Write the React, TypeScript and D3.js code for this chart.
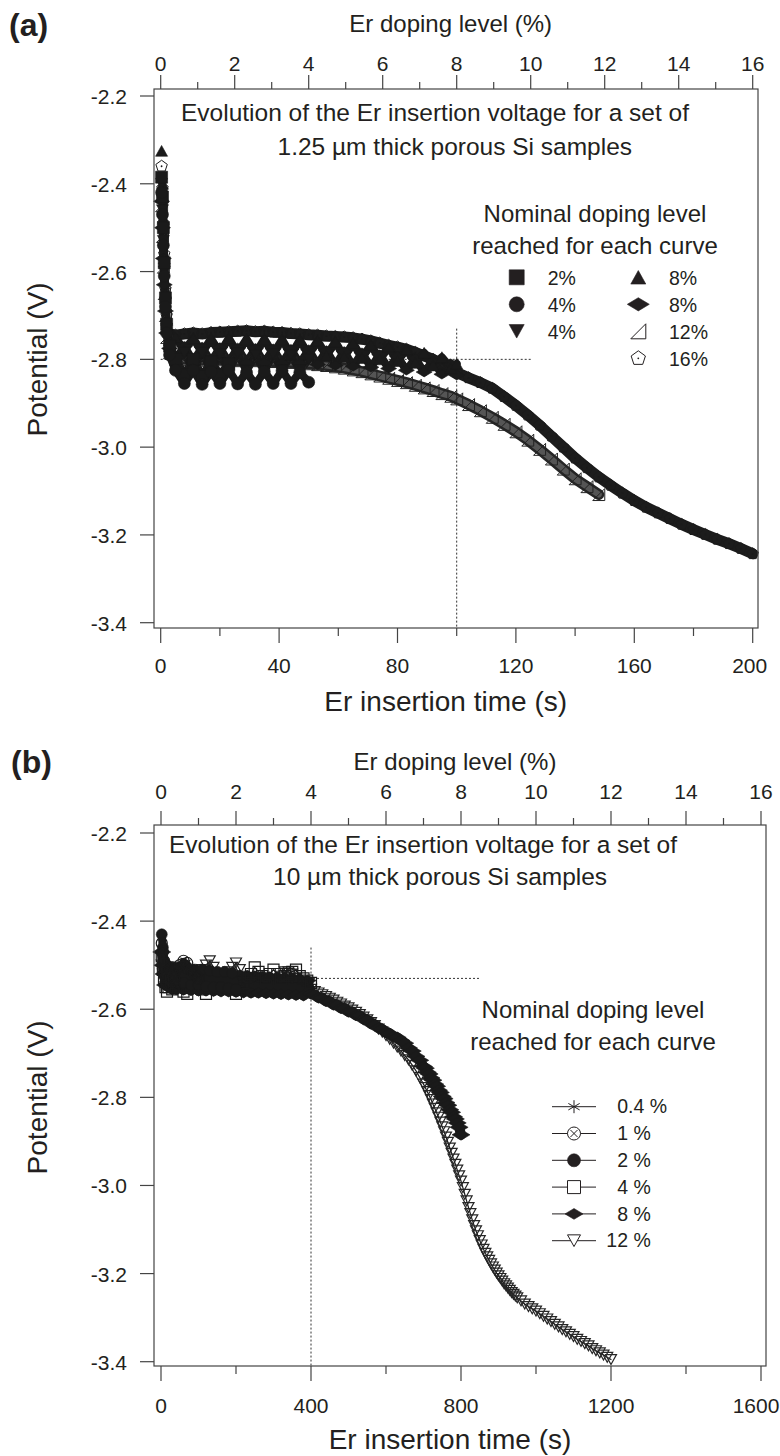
import React from "react";
import * as d3 from "d3";

// ---------------- Panel (a) : 1.25 µm samples ----------------
const timeA = [0.3, 0.6, 0.9, 1.2, 1.6, 2, 3, 5,
  8, 11, 14, 17, 20, 23, 26, 29, 32, 35, 38, 41, 44, 47, 50,
  53, 56, 59, 62, 65, 68, 71, 74, 77, 80, 83, 86, 89, 92, 95, 98, 100,
  104, 108, 112, 116, 120, 124, 128, 132, 136, 140, 144, 148,
  152, 156, 160, 164, 168, 172, 176, 180, 184, 188, 192, 196, 200];

const a2sq = [-2.385, -2.43, -2.50, -2.58, -2.66, -2.72, -2.77, -2.80,
  -2.835, -2.80, -2.838, -2.805, -2.835, -2.81];
const a4ci = [-2.42, -2.47, -2.54, -2.61, -2.68, -2.74, -2.79, -2.825,
  -2.855, -2.825, -2.857, -2.828, -2.855, -2.825, -2.856, -2.83, -2.857, -2.828, -2.855, -2.826, -2.855, -2.83, -2.852];
const a4td = [-2.40, -2.46, -2.53, -2.60, -2.67, -2.73, -2.78, -2.80,
  -2.785, -2.825, -2.785, -2.826, -2.788, -2.825, -2.786, -2.826, -2.79, -2.827, -2.788, -2.825, -2.79, -2.825, -2.80];
const a8tu = [-2.325, -2.40, -2.48, -2.57, -2.65, -2.71, -2.755, -2.75,
  -2.78, -2.752, -2.785, -2.753, -2.785, -2.752, -2.786, -2.754, -2.787, -2.754, -2.788, -2.755, -2.79, -2.756, -2.79,
  -2.758, -2.792, -2.76, -2.795, -2.763, -2.797, -2.767, -2.80, -2.772, -2.804, -2.777, -2.808, -2.785, -2.814, -2.795, -2.82,
  -2.81];
const a8di = [-2.44, -2.50, -2.57, -2.63, -2.69, -2.74, -2.775, -2.80,
  -2.77, -2.805, -2.772, -2.806, -2.773, -2.807, -2.774, -2.808, -2.775, -2.808, -2.776, -2.809, -2.777, -2.81, -2.778,
  -2.812, -2.78, -2.814, -2.782, -2.816, -2.785, -2.818, -2.789, -2.821, -2.793, -2.825, -2.798, -2.829, -2.804, -2.834, -2.81,
  -2.836];
const a12 = [-2.45, -2.52, -2.59, -2.65, -2.70, -2.75, -2.785, -2.795,
  -2.80, -2.80, -2.802, -2.80, -2.801, -2.802, -2.803, -2.802, -2.803, -2.804, -2.805, -2.806, -2.807, -2.808, -2.81,
  -2.812, -2.814, -2.817, -2.82, -2.824, -2.828, -2.833, -2.838, -2.843, -2.848, -2.853, -2.859, -2.865, -2.871, -2.878, -2.884,
  -2.89,
  -2.903, -2.917, -2.932, -2.948, -2.965, -2.984, -3.005, -3.027, -3.05, -3.072, -3.09, -3.108];
const a16 = [-2.36, -2.41, -2.49, -2.56, -2.64, -2.70, -2.742, -2.745,
  -2.742, -2.74, -2.742, -2.739, -2.738, -2.737, -2.736, -2.735, -2.737, -2.736, -2.738, -2.739, -2.741, -2.742, -2.744,
  -2.745, -2.747, -2.748, -2.749, -2.751, -2.754, -2.758, -2.763, -2.768, -2.772, -2.777, -2.784, -2.792, -2.80, -2.81, -2.822,
  -2.83,
  -2.842, -2.853, -2.866, -2.885, -2.905, -2.927, -2.95, -2.975, -3.0, -3.025, -3.047, -3.068,
  -3.087, -3.105, -3.122, -3.137, -3.15, -3.163, -3.176, -3.188, -3.199, -3.21, -3.22, -3.231, -3.243];

// ---------------- Panel (b) : 10 µm samples ----------------
const timeB = [2, 5, 8, 12, 16, 20, 25, 30, 35, 40,
  50, 60, 70, 80, 90, 100, 110, 120, 130, 140, 150, 160, 170, 180, 190, 200,
  210, 220, 230, 240, 250, 260, 270, 280, 290, 300, 310, 320, 330, 340, 350, 360, 370, 380, 390, 400,
  410, 420, 430, 440, 450, 460, 470, 480, 490, 500, 510, 520, 530, 540, 550,
  560, 570, 580, 590, 600, 610, 620, 630, 640, 650, 660, 670, 680, 690, 700,
  705, 710, 715, 720, 725, 730, 735, 740, 745, 750, 755, 760, 765, 770, 775, 780, 785, 790, 795, 800,
  805, 810, 815, 820, 825, 830, 835, 840, 845, 850, 855, 860, 865, 870, 875, 880, 885, 890, 895, 900,
  905, 910, 915, 920, 925, 930, 935, 940, 945, 950,
  960, 970, 980, 990, 1000, 1010, 1020, 1030, 1040, 1050, 1060, 1070, 1080, 1090, 1100,
  1110, 1120, 1130, 1140, 1150, 1160, 1170, 1180, 1190, 1200];

const b04 = [-2.47, -2.50, -2.52, -2.535, -2.51, -2.54, -2.515, -2.545, -2.52, -2.54];
const b1 = [-2.45, -2.47, -2.49, -2.51, -2.52, -2.505, -2.525, -2.505, -2.53, -2.51,
  -2.50, -2.49, -2.495, -2.51, -2.52, -2.53];
const b2 = [-2.43, -2.46, -2.49, -2.51, -2.50, -2.53, -2.505, -2.535, -2.505, -2.54,
  -2.505, -2.54, -2.508, -2.545, -2.51, -2.545, -2.51, -2.548, -2.512, -2.55, -2.515, -2.55, -2.515, -2.552, -2.518, -2.555];
const b4 = [-2.48, -2.51, -2.53, -2.55, -2.56, -2.55, -2.54, -2.555, -2.545, -2.55,
  -2.55, -2.56, -2.565, -2.55, -2.54, -2.545, -2.555, -2.565, -2.55, -2.54, -2.545, -2.55, -2.54, -2.545, -2.555, -2.565,
  -2.55, -2.54, -2.53, -2.52, -2.505, -2.515, -2.525, -2.53, -2.52, -2.51, -2.52, -2.53, -2.525, -2.52, -2.515, -2.51,
  -2.525, -2.53, -2.535, -2.54];
const b8 = [-2.47, -2.50, -2.52, -2.545, -2.515, -2.55, -2.515, -2.555, -2.515, -2.555,
  -2.515, -2.556, -2.516, -2.557, -2.517, -2.558, -2.518, -2.558, -2.519, -2.559, -2.52, -2.56, -2.521, -2.56, -2.522, -2.561,
  -2.523, -2.562, -2.524, -2.563, -2.525, -2.563, -2.526, -2.564, -2.527, -2.565, -2.528, -2.566, -2.529, -2.567, -2.53, -2.568,
  -2.532, -2.569, -2.535, -2.565,
  -2.567, -2.574, -2.574, -2.582, -2.582, -2.59, -2.59, -2.598, -2.598, -2.606, -2.606, -2.614, -2.614, -2.623, -2.624,
  -2.633, -2.635, -2.643, -2.645, -2.653, -2.655, -2.662, -2.664, -2.671, -2.677, -2.688, -2.695, -2.707, -2.716, -2.73,
  -2.734, -2.743, -2.747, -2.756, -2.761, -2.77, -2.775, -2.784, -2.789, -2.798, -2.803, -2.812, -2.818, -2.828, -2.834,
  -2.844, -2.849, -2.858, -2.868, -2.885];
const b12 = [-2.50, -2.52, -2.535, -2.54, -2.545, -2.55, -2.545, -2.55, -2.545, -2.55,
  -2.545, -2.54, -2.535, -2.53, -2.525, -2.52, -2.51, -2.50, -2.49, -2.505, -2.52, -2.53, -2.525, -2.515, -2.505, -2.495,
  -2.51, -2.525, -2.535, -2.54, -2.545, -2.54, -2.535, -2.54, -2.545, -2.54, -2.535, -2.525, -2.515, -2.515, -2.52, -2.53,
  -2.54, -2.545, -2.55, -2.555,
  -2.56, -2.563, -2.567, -2.571, -2.575, -2.579, -2.584, -2.588, -2.593, -2.597, -2.602, -2.607, -2.612, -2.618, -2.624,
  -2.63, -2.637, -2.645, -2.652, -2.66, -2.668, -2.677, -2.686, -2.695, -2.705, -2.715, -2.727, -2.74, -2.755, -2.77,
  -2.778, -2.787, -2.796, -2.805, -2.815, -2.825, -2.835, -2.845, -2.856, -2.867, -2.878, -2.89, -2.902, -2.915, -2.927,
  -2.94, -2.952, -2.965, -2.978, -2.99,
  -3.005, -3.02, -3.035, -3.05, -3.064, -3.078, -3.091, -3.103, -3.114, -3.125, -3.135, -3.145, -3.154, -3.162, -3.17,
  -3.178, -3.185, -3.192, -3.199, -3.205,
  -3.211, -3.217, -3.223, -3.228, -3.233, -3.238, -3.243, -3.247, -3.251, -3.255,
  -3.262, -3.269, -3.275, -3.28, -3.285, -3.291, -3.297, -3.303, -3.309, -3.315, -3.321, -3.327, -3.332, -3.338, -3.343,
  -3.349, -3.354, -3.359, -3.364, -3.37, -3.375, -3.38, -3.385, -3.39, -3.395];

// ---------------- ticks & labels ----------------
const potentialTicks = [-2.2, -2.4, -2.6, -2.8, -3.0, -3.2, -3.4];
const dopingMajor = [0, 2, 4, 6, 8, 10, 12, 14, 16];
const dopingMinor = [1, 3, 5, 7, 9, 11, 13, 15];
const timeMajorA = [0, 40, 80, 120, 160, 200];
const timeMinorA = [20, 60, 100, 140, 180];
const timeMajorB = [0, 400, 800, 1200, 1600];
const timeMinorB = [200, 600, 1000, 1400];

const FONT = '"Liberation Sans", Arial, Helvetica, sans-serif';
const INK = "#231f20";
const AX = "#444";
const DARK = "#1a1a1a";

function markerPath(shape: string, s: number): string {
  const h = s / 2;
  switch (shape) {
    case "square":
    case "openSquare":
      return `M${-h},${-h}H${h}V${h}H${-h}Z`;
    case "circle":
      return `M${-h},0A${h},${h} 0 1,0 ${h},0A${h},${h} 0 1,0 ${-h},0Z`;
    case "circleX": {
      const k = h * 0.55;
      return `M${-h},0A${h},${h} 0 1,0 ${h},0A${h},${h} 0 1,0 ${-h},0ZM${-k},${-k}L${k},${k}M${-k},${k}L${k},${-k}`;
    }
    case "triUp": {
      const t = s * 0.45;
      return `M0,${-t}L${h},${t}L${-h},${t}Z`;
    }
    case "triDown":
    case "openTriDown": {
      const t = s * 0.45;
      return `M0,${t}L${h},${-t}L${-h},${-t}Z`;
    }
    case "diamond":
      return `M${-h},0L0,${-s * 0.3}L${h},0L0,${s * 0.3}Z`;
    case "rightTri":
      return `M${-h},${h}L${h},${h}L${h},${-h}Z`;
    case "pentagon": {
      const pts = [0, 1, 2, 3, 4].map((k) => {
        const a = -Math.PI / 2 + (k * 2 * Math.PI) / 5;
        return `${(h * Math.cos(a)).toFixed(2)},${(h * Math.sin(a)).toFixed(2)}`;
      });
      return `M${pts.join("L")}Z`;
    }
    case "asterisk": {
      const c = h * 0.87;
      const d = h * 0.5;
      return `M0,${-h}L0,${h}M${-c},${-d}L${c},${d}M${-c},${d}L${c},${-d}`;
    }
    default:
      return "";
  }
}

const FILLED = new Set(["square", "circle", "triUp", "triDown", "diamond"]);

function Marker({ shape, x, y, s, color = DARK, bg = "none", sw = 1 }:
  { shape: string; x: number; y: number; s: number; color?: string; bg?: string; sw?: number }) {
  const filled = FILLED.has(shape);
  return (
    <g transform={`translate(${x.toFixed(2)},${y.toFixed(2)})`}>
      <path d={markerPath(shape, s)} fill={filled ? color : bg} stroke={color}
        strokeWidth={filled ? 0.6 : sw} strokeLinejoin="miter" />
      {shape === "pentagon" && <circle r={0.9} fill={color} />}
    </g>
  );
}

type Series = { label: string; values: number[]; shape: string };

const seriesA: Series[] = [
  { label: "2%", values: a2sq, shape: "square" },
  { label: "4%", values: a4ci, shape: "circle" },
  { label: "4%", values: a4td, shape: "triDown" },
  { label: "8%", values: a8tu, shape: "triUp" },
  { label: "8%", values: a8di, shape: "diamond" },
  { label: "12%", values: a12, shape: "rightTri" },
  { label: "16%", values: a16, shape: "pentagon" },
];

const seriesB: Series[] = [
  { label: "0.4 %", values: b04, shape: "asterisk" },
  { label: "1 %", values: b1, shape: "circleX" },
  { label: "2 %", values: b2, shape: "circle" },
  { label: "4 %", values: b4, shape: "openSquare" },
  { label: "8 %", values: b8, shape: "diamond" },
  { label: "12 %", values: b12, shape: "openTriDown" },
];

type Cfg = {
  letter: string; letterY: number; letterX: number;
  xDomain: [number, number]; xRange: [number, number]; yRange: [number, number];
  frame: [number, number, number, number];
  timeMajor: number[]; timeMinor: number[];
  topTitleY: number; topTickY: number; bottomTickY: number; bottomTitleY: number;
  titleLines: [string, string]; titleX: [number, number]; titleY: [number, number];
  headerX: number; headerY: [number, number];
  vDot: [number, number]; hDot: [number, number, number];
};

const cfgA: Cfg = {
  letter: "(a)", letterX: 9, letterY: 36,
  xDomain: [0, 200], xRange: [160.7, 752.7], yRange: [96, 622.7],
  frame: [154, 89, 758, 628],
  timeMajor: timeMajorA, timeMinor: timeMinorA,
  topTitleY: 32, topTickY: 70.5, bottomTickY: 673, bottomTitleY: 711,
  titleLines: ["Evolution of the Er insertion voltage for a set of", "1.25 µm thick porous Si samples"],
  titleX: [181, 277.5], titleY: [121, 155],
  headerX: 595, headerY: [222, 254],
  vDot: [100, -2.73], hDot: [-2.8, 0, 125.5],
};

const cfgB: Cfg = {
  letter: "(b)", letterX: 11, letterY: 773,
  xDomain: [0, 1600], xRange: [161, 761], yRange: [833, 1361.7],
  frame: [154, 825, 766, 1366],
  timeMajor: timeMajorB, timeMinor: timeMinorB,
  topTitleY: 770, topTickY: 799, bottomTickY: 1413, bottomTitleY: 1449,
  titleLines: ["Evolution of the Er insertion voltage for a set of", "10 µm thick porous Si samples"],
  titleX: [169, 273], titleY: [853, 885],
  headerX: 593, headerY: [1018, 1050],
  vDot: [400, -2.46], hDot: [-2.53, 0, 850],
};

function Frame({ cfg, x, y, xt }: any) {
  const [fx0, fy0, fx1, fy1] = cfg.frame;
  const mid = (cfg.xRange[0] + cfg.xRange[1]) / 2;
  const ymid = (cfg.yRange[0] + cfg.yRange[1]) / 2;
  const lastT = cfg.timeMajor[cfg.timeMajor.length - 1];
  return (
    <g>
      <rect x={fx0} y={fy0} width={fx1 - fx0} height={fy1 - fy0} fill="none" stroke={AX} strokeWidth={1.2} />
      {dopingMajor.map((d) => (
        <g key={"tm" + d}>
          <line x1={xt(d)} x2={xt(d)} y1={fy0} y2={fy0 - 14} stroke={AX} strokeWidth={1.2} />
          <text x={xt(d)} y={cfg.topTickY} textAnchor="middle" fontSize={21} fill={INK}>{d}</text>
        </g>
      ))}
      {dopingMinor.map((d) => (
        <line key={"tn" + d} x1={xt(d)} x2={xt(d)} y1={fy0} y2={fy0 - 7} stroke={AX} strokeWidth={1.2} />
      ))}
      <text x={mid - 6} y={cfg.topTitleY} textAnchor="middle" fontSize={24} fill={INK}>Er doping level (%)</text>
      {cfg.timeMajor.map((t: number) => (
        <g key={"bm" + t}>
          <line x1={x(t)} x2={x(t)} y1={fy1} y2={fy1 + 15} stroke={AX} strokeWidth={1.2} />
          <text x={t === lastT ? Math.min(x(t) - 3, 756) : x(t)} y={cfg.bottomTickY} textAnchor="middle" fontSize={21} fill={INK}>{t}</text>
        </g>
      ))}
      {cfg.timeMinor.map((t: number) => (
        <line key={"bn" + t} x1={x(t)} x2={x(t)} y1={fy1} y2={fy1 + 8} stroke={AX} strokeWidth={1.2} />
      ))}
      <text x={mid - 11} y={cfg.bottomTitleY} textAnchor="middle" fontSize={28} fill={INK}>Er insertion time (s)</text>
      {potentialTicks.map((v) => (
        <g key={"l" + v}>
          <line x1={fx0} x2={fx0 - 14} y1={y(v)} y2={y(v)} stroke={AX} strokeWidth={1.2} />
          <text x={127} y={y(v) + 8} textAnchor="end" fontSize={21} fill={INK}>{v.toFixed(1)}</text>
        </g>
      ))}
      <text transform={`translate(47,${ymid}) rotate(-90)`} textAnchor="middle" fontSize={28} fill={INK}>Potential (V)</text>
      <text x={cfg.letterX} y={cfg.letterY} fontSize={32} fontWeight="bold" fill={INK}>{cfg.letter}</text>
      {cfg.titleLines.map((s: string, i: number) => (
        <text key={"ti" + i} x={cfg.titleX[i]} y={cfg.titleY[i]} fontSize={24.5} fill={INK}>{s}</text>
      ))}
      <text x={cfg.headerX} y={cfg.headerY[0]} textAnchor="middle" fontSize={24} fill={INK}>Nominal doping level</text>
      <text x={cfg.headerX} y={cfg.headerY[1]} textAnchor="middle" fontSize={24} fill={INK}>reached for each curve</text>
    </g>
  );
}

function Guides({ cfg, x, y }: any) {
  const fy1 = cfg.frame[3];
  return (
    <g stroke="#333" strokeWidth={1} strokeDasharray="2,2" fill="none">
      <line x1={x(cfg.vDot[0])} x2={x(cfg.vDot[0])} y1={y(cfg.vDot[1])} y2={fy1} />
      <line x1={x(cfg.hDot[1])} x2={x(cfg.hDot[2])} y1={y(cfg.hDot[0])} y2={y(cfg.hDot[0])} />
    </g>
  );
}

function PanelA() {
  const cfg = cfgA;
  const x = d3.scaleLinear().domain(cfg.xDomain).range(cfg.xRange);
  const xt = d3.scaleLinear().domain([0, 16]).range(cfg.xRange);
  const y = d3.scaleLinear().domain([-2.2, -3.4]).range(cfg.yRange);
  const line = (vals: number[], from: number) =>
    d3.line<number>().x((_, i) => x(timeA[i + from])).y((v) => y(v))(vals.slice(from)) || "";
  const order = [6, 5, 4, 3, 2, 0, 1];
  return (
    <g>
      <Guides cfg={cfg} x={x} y={y} />
      <path d={line(a16, 6)} fill="none" stroke="#1c1c1c" strokeWidth={11} strokeLinejoin="round" strokeLinecap="round" />
      <path d={line(a12, 6)} fill="none" stroke="#262626" strokeWidth={11} strokeLinejoin="round" strokeLinecap="round" />
      <path d={line(a12, 8)} fill="none" stroke="#555" strokeWidth={6} strokeLinejoin="round" strokeLinecap="round" />
      {[4, 3, 2, 0, 1].map((si) => (
        <path key={"cl" + si} d={line(seriesA[si].values, 1)} fill="none" stroke={DARK}
          strokeWidth={8} strokeLinejoin="round" strokeLinecap="round" />
      ))}
      {order.map((si) => {
        const s = seriesA[si];
        return (
          <g key={"sa" + si}>
            {s.values.map((v, i) => (
              <Marker key={i} shape={s.shape} x={x(timeA[i])} y={y(v)} s={s.shape === "diamond" ? 16 : 12}
                color={s.shape === "rightTri" ? "#222" : DARK} />
            ))}
          </g>
        );
      })}
      <Frame cfg={cfg} x={x} y={y} xt={xt} />
      {seriesA.map((s, i) => {
        const col = i < 3 ? 0 : 1;
        const row = i < 3 ? i : i - 3;
        const mx = col === 0 ? 516.7 : 638.3;
        const tx = col === 0 ? 547.7 : 669;
        const ry = 277.3 + row * 27;
        return (
          <g key={"la" + i}>
            <Marker shape={s.shape} x={mx} y={ry} s={s.shape === "diamond" ? 22 : 15} color={INK} bg="#fff" />
            <text x={tx} y={ry + 7.5} fontSize={19.5} fill={INK}>{s.label}</text>
          </g>
        );
      })}
    </g>
  );
}

function PanelB() {
  const cfg = cfgB;
  const x = d3.scaleLinear().domain(cfg.xDomain).range(cfg.xRange);
  const xt = d3.scaleLinear().domain([0, 16]).range(cfg.xRange);
  const y = d3.scaleLinear().domain([-2.2, -3.4]).range(cfg.yRange);
  const line = (vals: number[]) =>
    d3.line<number>().x((_, i) => x(timeB[i])).y((v) => y(v))(vals) || "";
  const order = [5, 4, 3, 2, 1, 0];
  const thick: Record<number, number> = { 0: 6, 1: 6, 2: 8, 4: 10 };
  return (
    <g>
      <Guides cfg={cfg} x={x} y={y} />
      {order.map((si) => {
        const s = seriesB[si];
        return (
          <g key={"sb" + si}>
            <path d={line(s.values)} fill="none" stroke={DARK} strokeWidth={thick[si] ?? 1.2}
              strokeLinejoin="round" strokeLinecap="round" />
            {s.values.map((v, i) => (
              <Marker key={i} shape={s.shape} x={x(timeB[i])} y={y(v)} s={s.shape === "diamond" ? 18 : 11}
                color={s.shape === "openTriDown" ? "#262626" : DARK} sw={1.2} />
            ))}
          </g>
        );
      })}
      <Frame cfg={cfg} x={x} y={y} xt={xt} />
      {seriesB.map((s, i) => {
        const ry = 1106.7 + i * 26.8;
        const parts = s.label.includes(".")
          ? [s.label.split(".")[0], "." + s.label.split(".")[1]]
          : [s.label.split(" ")[0], "\u00a0%"];
        return (
          <g key={"lb" + i}>
            <line x1={552} x2={596} y1={ry} y2={ry} stroke={INK} strokeWidth={1} />
            <Marker shape={s.shape} x={574} y={ry} s={s.shape === "diamond" ? 18 : 13} color={INK} bg="#fff" />
            <text x={628} y={ry + 6.7} textAnchor="end" fontSize={19.5} fill={INK}>{parts[0]}</text>
            <text x={628} y={ry + 6.7} fontSize={19.5} fill={INK}>{parts[1]}</text>
          </g>
        );
      })}
    </g>
  );
}

export default function App() {
  return (
    <svg width={780} height={1456} viewBox="0 0 780 1456"
      style={{ position: "absolute", left: 0, top: 0, background: "#fff" }} fontFamily={FONT}>
      <rect width={780} height={1456} fill="#fff" />
      <PanelA />
      <PanelB />
    </svg>
  );
}
